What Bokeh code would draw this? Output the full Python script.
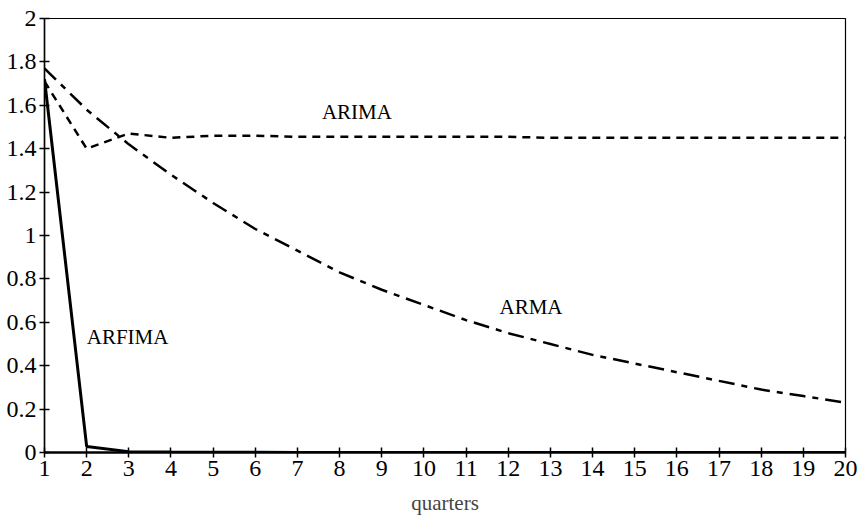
from bokeh.plotting import figure
from bokeh.models import FixedTicker, Label, Range1d
from bokeh.embed import file_html
from bokeh.resources import INLINE

quarters = list(range(1, 21))
arima = [1.71, 1.40, 1.47, 1.45, 1.46, 1.46, 1.455, 1.455, 1.455, 1.455,
         1.455, 1.455, 1.45, 1.45, 1.45, 1.45, 1.45, 1.45, 1.45, 1.45]
arma = [1.77, 1.58, 1.42, 1.28, 1.15, 1.03, 0.93, 0.83, 0.75, 0.68,
        0.61, 0.55, 0.50, 0.45, 0.41, 0.37, 0.33, 0.29, 0.26, 0.23]
arfima = [1.72, 0.028, 0.004, 0.002, 0.001, 0.001, 0.0, 0.0, 0.0, 0.0,
          0.0, 0.0, 0.0, 0.0, 0.0, 0.0, 0.0, 0.0, 0.0, 0.0]
y_ticks = [0, 0.2, 0.4, 0.6, 0.8, 1.0, 1.2, 1.4, 1.6, 1.8, 2.0]
y_tick_labels = ["0", "0.2", "0.4", "0.6", "0.8", "1", "1.2", "1.4", "1.6", "1.8", "2"]
series_labels = ["ARIMA", "ARMA", "ARFIMA"]

FONT = "Liberation Serif"

p = figure(width=857, height=517, output_backend="svg", toolbar_location=None,
           x_range=Range1d(1, 20), y_range=Range1d(0, 2),
           min_border_left=44, min_border_right=12, min_border_top=18, min_border_bottom=65)
p.grid.visible = False
p.outline_line_color = "black"
p.outline_line_width = 1.2
p.background_fill_color = "white"
p.border_fill_color = "white"

p.line(quarters, arima, line_color="black", line_width=2.5, line_dash="8 6")
p.line(quarters, arma, line_color="black", line_width=2.5, line_dash="16 7 6 7")
p.line(quarters, arfima, line_color="black", line_width=3)

for ax in (p.xaxis[0], p.yaxis[0]):
    ax.axis_line_color = "black"
    ax.major_tick_line_color = "black"
    ax.major_tick_line_width = 1.5
    ax.major_tick_in = 5
    ax.major_tick_out = 5
    ax.minor_tick_line_color = None
    ax.major_label_text_font = FONT
    ax.major_label_text_font_size = "24px"
    ax.major_label_text_color = "black"

p.xaxis.axis_line_width = 2.5
p.yaxis.axis_line_width = 1.5
p.yaxis.major_label_standoff = 3
p.xaxis.major_label_standoff = 3
p.xaxis.ticker = FixedTicker(ticks=quarters)
p.yaxis.ticker = FixedTicker(ticks=y_ticks)
p.yaxis.major_label_overrides = {t: l for t, l in zip(y_ticks, y_tick_labels)}
p.xaxis.axis_label = "quarters"
p.xaxis.axis_label_text_font = FONT
p.xaxis.axis_label_text_font_style = "normal"
p.xaxis.axis_label_text_font_size = "21px"
p.xaxis.axis_label_standoff = 12

for txt, x, y in zip(series_labels, [8.41, 12.54, 2.97], [1.57, 0.67, 0.53]):
    p.add_layout(Label(x=x, y=y, text=txt, text_font=FONT, text_font_size="21px",
                       text_align="center", text_baseline="middle", text_color="black"))

open("out.html", "w").write(file_html(p, INLINE))
